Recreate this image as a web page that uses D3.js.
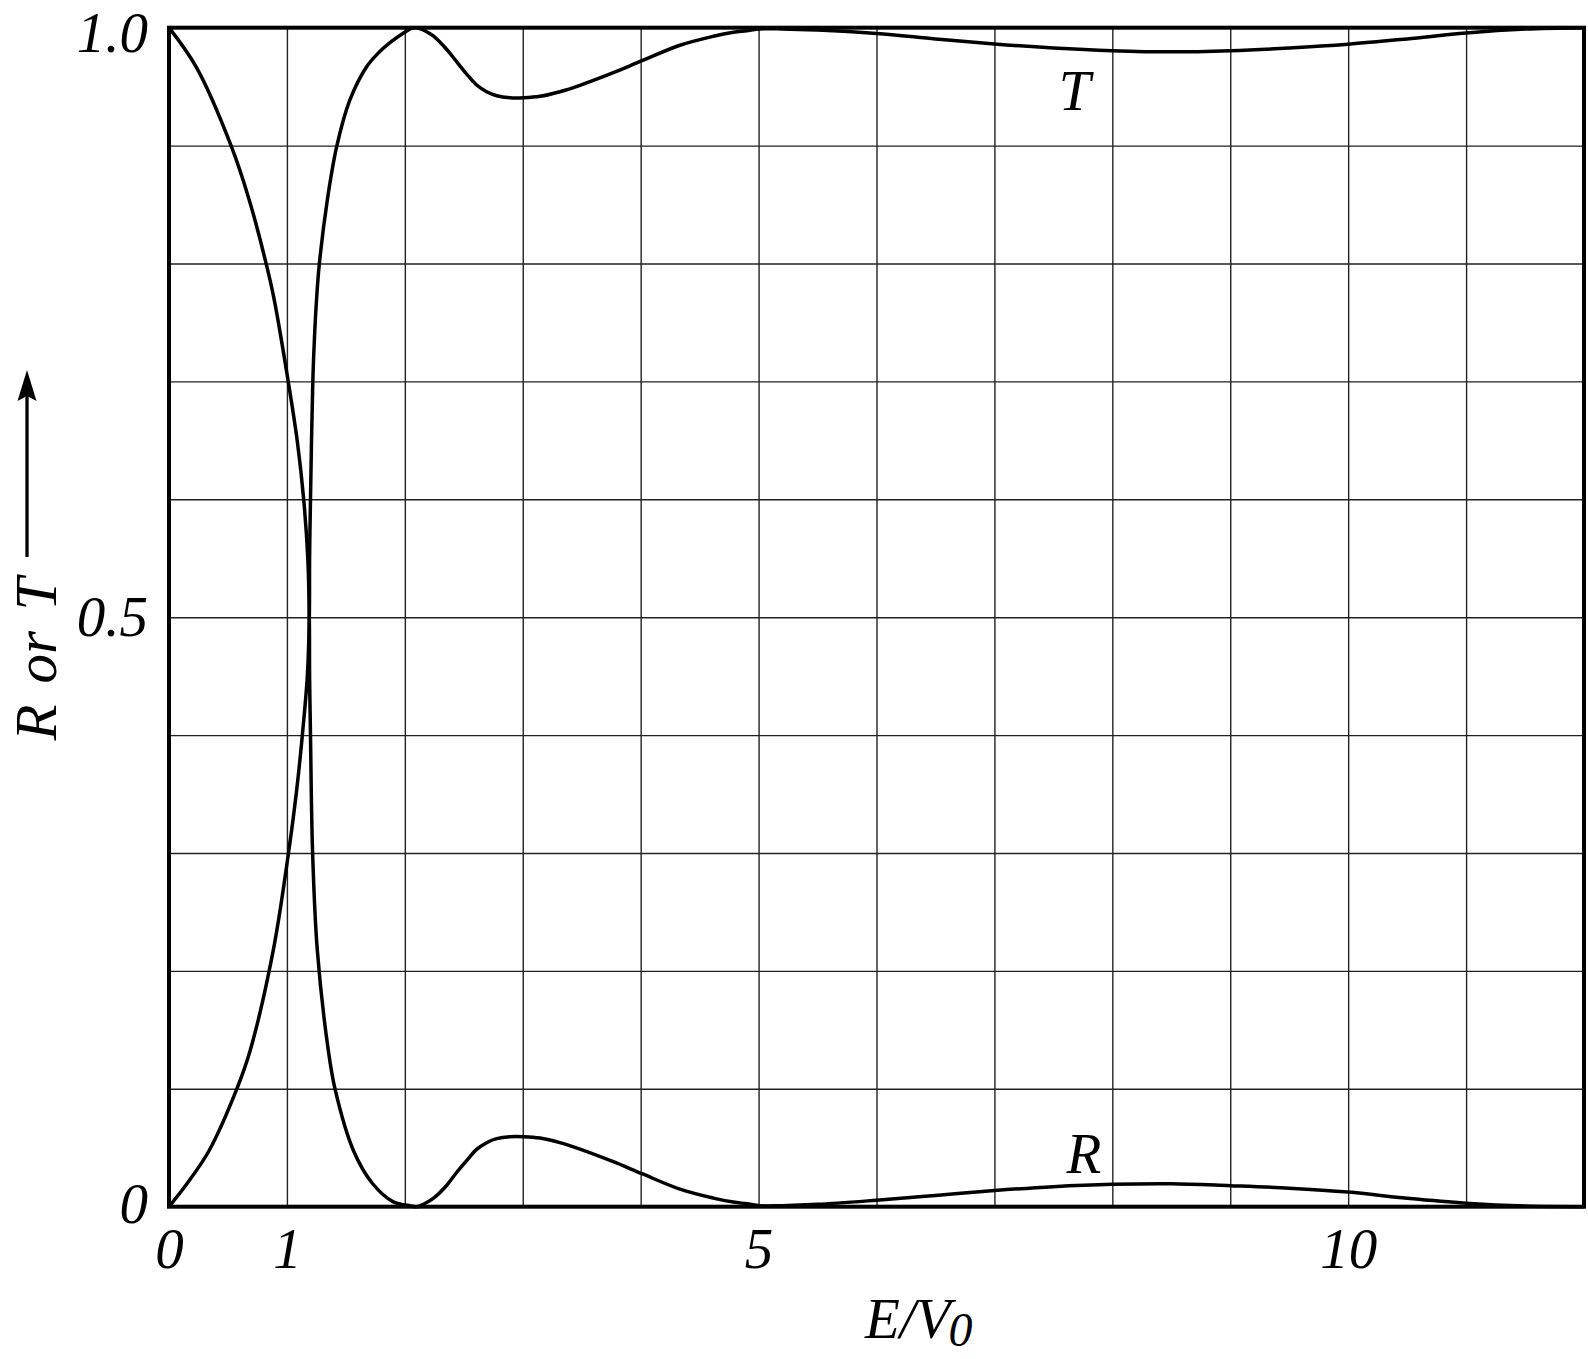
<!DOCTYPE html>
<html>
<head>
<meta charset="utf-8">
<script src="https://cdn.jsdelivr.net/npm/d3@7"></script>
<style>
  html, body { margin: 0; padding: 0; background: #fff; }
  svg { display: block; }
  text { font-family: "Liberation Serif", "Times New Roman", serif; font-style: italic; fill: #000; }
</style>
</head>
<body>
<svg id="chart" width="1588" height="1359"></svg>
<script>
// ---------- data ----------
const energyT = [0, 0.155, 0.342, 0.571, 0.689, 0.8845, 1.012, 1.0796, 1.13, 1.173,
  1.19, 1.1923, 1.1999, 1.2195, 1.2339, 1.2509, 1.2746, 1.3424, 1.423, 1.5332,
  1.6732, 1.77, 1.8682, 2.0124, 2.05, 2.0887, 2.125, 2.157, 2.241, 2.354, 2.439, 2.524,
  2.609, 2.694, 2.779, 2.892, 3.01, 3.146, 3.315, 3.485, 3.768, 4.011,
  4.333, 4.616, 4.786, 4.899, 5.012, 5.2, 5.5, 6, 6.5, 7,
  7.5, 8, 8.5, 9, 9.5, 10, 10.5, 11, 11.5, 12];
const transmission = [0, 0.0199, 0.0479, 0.0988, 0.1327, 0.2176, 0.299, 0.3507, 0.3991, 0.45,
  0.5, 0.55, 0.6, 0.6998, 0.7375, 0.7689, 0.7994, 0.8537, 0.8995, 0.9385,
  0.9665, 0.978, 0.9869, 0.997, 0.9992, 1.0, 0.9993, 0.998, 0.993, 0.9817, 0.9712, 0.9607,
  0.9514, 0.9457, 0.9423, 0.9406, 0.9406, 0.9418, 0.9457, 0.9511, 0.9618, 0.972,
  0.9851, 0.9927, 0.9961, 0.9975, 0.999, 0.999, 0.998, 0.995, 0.9905, 0.9862,
  0.9828, 0.9805, 0.9795, 0.9805, 0.9828, 0.986, 0.9905, 0.9955, 0.9988, 1.0];

const energyR = [0, 0.2315, 0.528, 0.681, 0.825, 0.893, 1.012, 1.088, 1.143, 1.177,
  1.19, 1.1923, 1.1999, 1.2178, 1.2577, 1.3509, 1.4103, 1.5629, 1.7241, 1.902,
  2.05, 2.0972, 2.13, 2.157, 2.241, 2.354, 2.439, 2.524, 2.609, 2.694, 2.779, 2.892,
  3.01, 3.146, 3.315, 3.485, 3.768, 4.011, 4.333, 4.616, 4.786, 4.899,
  5.012, 5.2, 5.5, 6, 6.5, 7, 7.5, 8, 8.5, 9,
  9.5, 10, 10.5, 11, 11.5, 12];
const reflection = [1.0, 0.9665, 0.8995, 0.8537, 0.7994, 0.7689, 0.6993, 0.6493, 0.5992, 0.55,
  0.5, 0.45, 0.3999, 0.3002, 0.2176, 0.1327, 0.0988, 0.0479, 0.0199, 0.0041,
  0.0007, 0.0, 0.0008, 0.002, 0.007, 0.018, 0.029, 0.039, 0.0486, 0.0543, 0.0577, 0.0594,
  0.0594, 0.0582, 0.0543, 0.0489, 0.0382, 0.028, 0.0149, 0.0073, 0.0039, 0.0025,
  0.0008, 0.0009, 0.002, 0.0055, 0.0095, 0.0137, 0.017, 0.019, 0.0195, 0.0178,
  0.0157, 0.0124, 0.0072, 0.003, 0.0006, 0.0];

const xGridValues = [1, 2, 3, 4, 5, 6, 7, 8, 9, 10, 11];
const yGridValues = [0.1, 0.2, 0.3, 0.4, 0.5, 0.6, 0.7, 0.8, 0.9];
const xTickValues = [0, 1, 5, 10];
const xTickLabels = ["0", "1", "5", "10"];
const yTickValues = [0, 0.5, 1.0];
const yTickLabels = ["0", "0.5", "1.0"];
const curveLabels = [
  { text: "T", E: 7.68, v: 0.930 },
  { text: "R", E: 7.76, v: 0.029 }
];

// ---------- layout ----------
const svg = d3.select("#chart");
const mLeft = 169, mRight = 1584, mTop = 27.7, mBottom = 1206.7;
const x = d3.scaleLinear().domain([0, 12]).range([mLeft, mRight]);
const y = d3.scaleLinear().domain([0, 1]).range([mBottom, mTop]);

// grid
svg.append("g")
  .attr("transform", `translate(0,${mBottom})`)
  .call(d3.axisBottom(x).tickValues(xGridValues).tickSize(-(mBottom - mTop)).tickFormat(""))
  .call(g => g.select(".domain").remove())
  .call(g => g.selectAll("line").attr("stroke", "#222").attr("stroke-width", 1.4));

svg.append("g")
  .attr("transform", `translate(${mLeft},0)`)
  .call(d3.axisLeft(y).tickValues(yGridValues).tickSize(-(mRight - mLeft)).tickFormat(""))
  .call(g => g.select(".domain").remove())
  .call(g => g.selectAll("line").attr("stroke", "#222").attr("stroke-width", 1.4));

// curves
const line = d3.line()
  .x(d => x(d[0]))
  .y(d => y(d[1]))
  .curve(d3.curveCatmullRom.alpha(0.5));

const tData = energyT.map((e, i) => [e, transmission[i]]);
const rData = energyR.map((e, i) => [e, reflection[i]]);

svg.append("path").datum(tData)
  .attr("d", line).attr("fill", "none").attr("stroke", "#000")
  .attr("stroke-width", 3.5).attr("stroke-linejoin", "round");
svg.append("path").datum(rData)
  .attr("d", line).attr("fill", "none").attr("stroke", "#000")
  .attr("stroke-width", 3.5).attr("stroke-linejoin", "round");

// frame
svg.append("rect")
  .attr("x", x(0)).attr("y", y(1))
  .attr("width", x(12) - x(0)).attr("height", y(0) - y(1))
  .attr("fill", "none").attr("stroke", "#000").attr("stroke-width", 4);

// tick labels via axes
const fontSize = 57;
svg.append("g")
  .attr("transform", `translate(0,${mBottom})`)
  .call(d3.axisBottom(x).tickValues(xTickValues).tickSize(0)
        .tickFormat((d, i) => xTickLabels[i]))
  .call(g => g.select(".domain").remove())
  .call(g => g.selectAll("text")
        .attr("y", 61).attr("dy", null)
        .attr("font-size", fontSize)
        .attr("font-family", "'Liberation Serif', 'Times New Roman', serif")
        .attr("font-style", "italic").attr("fill", "#000"));

svg.append("g")
  .attr("transform", `translate(${mLeft},0)`)
  .call(d3.axisLeft(y).tickValues(yTickValues).tickSize(0)
        .tickFormat((d, i) => yTickLabels[i]))
  .call(g => g.select(".domain").remove())
  .call(g => g.selectAll("text")
        .attr("x", -21)
        .attr("dy", d => d === 1 ? 23.5 : (d === 0 ? 16 : 18))
        .attr("font-size", fontSize)
        .attr("font-family", "'Liberation Serif', 'Times New Roman', serif")
        .attr("font-style", "italic").attr("fill", "#000"));

// curve labels
svg.selectAll("text.curve-label").data(curveLabels).enter().append("text")
  .attr("class", "curve-label")
  .attr("x", d => x(d.E)).attr("y", d => y(d.v))
  .attr("text-anchor", "middle")
  .attr("font-size", fontSize)
  .text(d => d.text);

// x-axis title E/V0
const xt = svg.append("text")
  .attr("x", 865).attr("y", 1338)
  .attr("font-size", fontSize);
xt.append("tspan").text("E/V");
xt.append("tspan").attr("dx", -2).attr("dy", 8).attr("font-size", 48).text("0");

// y-axis title "R or T" with arrow
svg.append("text")
  .attr("transform", "translate(56,659) rotate(-90)")
  .attr("text-anchor", "middle")
  .attr("font-size", 59)
  .attr("word-spacing", 6)
  .text("R or T");

svg.append("line")
  .attr("x1", 27).attr("y1", 557).attr("x2", 27).attr("y2", 392)
  .attr("stroke", "#000").attr("stroke-width", 3.3);
svg.append("path")
  .attr("d", "M27,370 L36.5,401 L27,396 L17.5,401 Z")
  .attr("fill", "#000");
</script>
</body>
</html>
